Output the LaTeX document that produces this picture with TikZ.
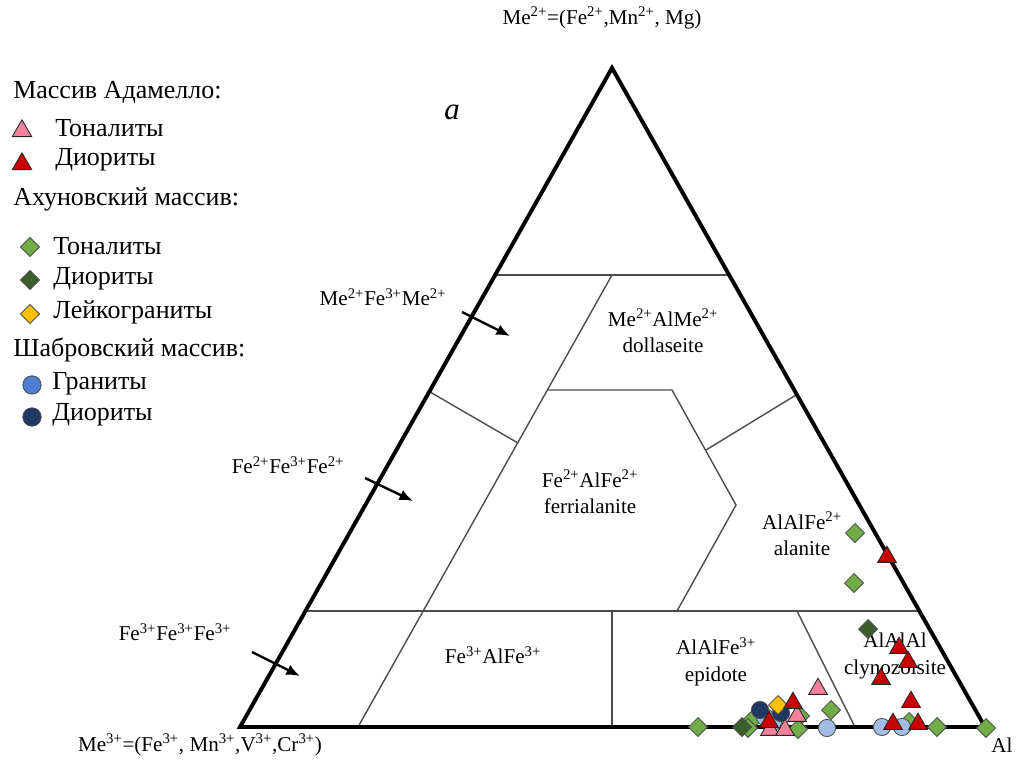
\documentclass[tikz,border=0pt]{standalone}
\usepackage{fontspec}
\setmainfont{Liberation Serif}
\usetikzlibrary{arrows.meta,shapes.geometric}

\definecolor{tonpink}{HTML}{F4819C}
\definecolor{diorred}{HTML}{C80000}
\definecolor{tongreen}{HTML}{70AD47}
\definecolor{diorgreen}{HTML}{3B5E2B}
\definecolor{leucoyellow}{HTML}{FFC000}
\definecolor{granblue}{HTML}{4F7FCF}
\definecolor{granlight}{HTML}{A3BCE4}
\definecolor{diorblue}{HTML}{203864}

\newcommand{\ionc}[1]{\textsuperscript{#1}}

\tikzset{
  rim/.style={line width=2.8pt, line join=miter},
  zone/.style={line width=1pt, black!70},
  pointer/.style={line width=1.7pt, -{Latex[length=3.4mm,width=2.8mm]}},
  lbl/.style={font=\fontsize{15}{19}\selectfont, align=center, inner sep=0pt},
  leg/.style={font=\fontsize{18.5}{21}\selectfont, anchor=west, inner sep=0pt},
  mtri/.style={regular polygon, regular polygon sides=3, draw=black!85, line width=0.6pt, inner sep=0pt, minimum size=5.4mm},
  mdia/.style={diamond, draw=black!70, line width=0.6pt, inner sep=0pt, minimum size=4.8mm},
  mcirc/.style={circle, draw=black!70, line width=0.6pt, inner sep=0pt, minimum size=4.3mm}
}

\begin{document}
\begin{tikzpicture}[x=0.25mm,y=-0.25mm]
        \useasboundingbox (0,0) rectangle (1017,760);

        \coordinate (top) at (612,68);
        \coordinate (lft) at (240,727);
        \coordinate (rgt) at (985,727);

        \coordinate (u1) at (495,275);
        \coordinate (u2) at (729,275);
        \coordinate (um) at (612,275);
        \coordinate (l1) at (358,727);
        \coordinate (d1) at (305,611);
        \coordinate (d2) at (919,611);
        \coordinate (h1) at (547,390);
        \coordinate (h2) at (672,390);
        \coordinate (h3) at (736,505);
        \coordinate (h4) at (677,611);
        \coordinate (m1) at (430,392);
        \coordinate (m2) at (518,443);
        \coordinate (n1) at (796,395);
        \coordinate (n2) at (706,450);
        \coordinate (v1) at (612,611);
        \coordinate (v2) at (612,727);
        \coordinate (w1) at (797,611);
        \coordinate (w2) at (855,727);

        \draw[zone] (u1) -- (u2);
        \draw[zone] (d1) -- (d2);
        \draw[zone] (um) -- (l1);
        \draw[zone] (h1) -- (h2) -- (h3) -- (h4);
        \draw[zone] (m1) -- (m2);
        \draw[zone] (n1) -- (n2);
        \draw[zone] (v1) -- (v2);
        \draw[zone] (w1) -- (w2);
        \draw[rim] (top) -- (rgt) -- (lft) -- cycle;

        \coordinate (a1s) at (462,312);
        \coordinate (a1e) at (510,336);
        \coordinate (a2s) at (365,478);
        \coordinate (a2e) at (413,501);
        \coordinate (a3s) at (252,652);
        \coordinate (a3e) at (300,676);
        \draw[pointer] (a1s) -- (a1e);
        \draw[pointer] (a2s) -- (a2e);
        \draw[pointer] (a3s) -- (a3e);

        \node[lbl] (apex) at (602,18) {Me\ionc{2+}=(Fe\ionc{2+},Mn\ionc{2+}, Mg)};
        \node[lbl] (base) at (200,745) {Me\ionc{3+}=(Fe\ionc{3+}, Mn\ionc{3+},V\ionc{3+},Cr\ionc{3+})};
        \node[lbl] (alum) at (1002,745) {Al};
        \node[lbl, font=\fontsize{22}{24}\itshape] (panel) at (452,112) {a};

        \node[lbl] (side1) at (383,297) {Me\ionc{2+}Fe\ionc{3+}Me\ionc{2+}};
        \node[lbl] (side2) at (288,465) {Fe\ionc{2+}Fe\ionc{3+}Fe\ionc{2+}};
        \node[lbl] (side3) at (175,632) {Fe\ionc{3+}Fe\ionc{3+}Fe\ionc{3+}};

        \node[lbl] (dolla) at (663,331) {Me\ionc{2+}AlMe\ionc{2+}\\dollaseite};
        \node[lbl] (ferri) at (590,492) {Fe\ionc{2+}AlFe\ionc{2+}\\ferrialanite};
        \node[lbl] (alan) at (802,534) {AlAlFe\ionc{2+}\\alanite};
        \node[lbl] (fethree) at (493,655) {Fe\ionc{3+}AlFe\ionc{3+}};
        \node[lbl] (epid) at (716,662) {AlAlFe\ionc{3+}\\epidote};
        \node[lbl] (clyn) at (895,656) {AlAlAl\\clynozoisite};

        \foreach \px/\py [count=\i] in {855/533, 854/583, 698/727, 752/720, 748/728, 800/716, 798/729, 831/710, 909/722, 937/727, 986/728}
          \node[mdia, fill=tongreen] (tg\i) at (\px,\py) {};
        \foreach \px/\py [count=\i] in {868/629, 742/727}
          \node[mdia, fill=diorgreen] (dg\i) at (\px,\py) {};
        \foreach \px/\py [count=\i] in {765/717, 773/722, 827/728, 882/727, 902/727}
          \node[mcirc, fill=granlight] (gb\i) at (\px,\py) {};
        \foreach \px/\py [count=\i] in {760/710, 781/713}
          \node[mcirc, fill=diorblue] (db\i) at (\px,\py) {};
        \node[mdia, fill=leucoyellow] (ly1) at (778,705) {};
        \foreach \px/\py [count=\i] in {818/689, 797/716, 770/730, 785/730}
          \node[mtri, fill=tonpink] (tp\i) at (\px,\py) {};
        \foreach \px/\py [count=\i] in {887/557, 899/648, 908/662, 881/679, 911/702, 893/724, 918/724, 793/703, 769/722}
          \node[mtri, fill=diorred] (dr\i) at (\px,\py) {};

        \node[leg] (mass1) at (13,92) {Массив Адамелло:};
        \node[mtri, fill=tonpink, minimum size=5.6mm] (k1) at (22,131) {};
        \node[leg] (t1) at (55,128) {Тоналиты};
        \node[mtri, fill=diorred, minimum size=5.6mm] (k2) at (22,164) {};
        \node[leg] (t2) at (55,160) {Диориты};

        \node[leg] (mass2) at (13,199) {Ахуновский массив:};
        \node[mdia, fill=tongreen, minimum size=4.8mm] (k3) at (30,247) {};
        \node[leg] (t3) at (53,246) {Тоналиты};
        \node[mdia, fill=diorgreen, minimum size=4.8mm] (k4) at (30,280) {};
        \node[leg] (t4) at (53,279) {Диориты};
        \node[mdia, fill=leucoyellow, minimum size=4.8mm] (k5) at (30,314) {};
        \node[leg] (t5) at (53,312) {Лейкограниты};

        \node[leg] (mass3) at (13,350) {Шабровский массив:};
        \node[mcirc, fill=granblue, minimum size=4.6mm] (k6) at (32,385) {};
        \node[leg] (t6) at (52,384) {Граниты};
        \node[mcirc, fill=diorblue, minimum size=4.6mm] (k7) at (32,417) {};
        \node[leg] (t7) at (52,415) {Диориты};
\end{tikzpicture}
\end{document}
